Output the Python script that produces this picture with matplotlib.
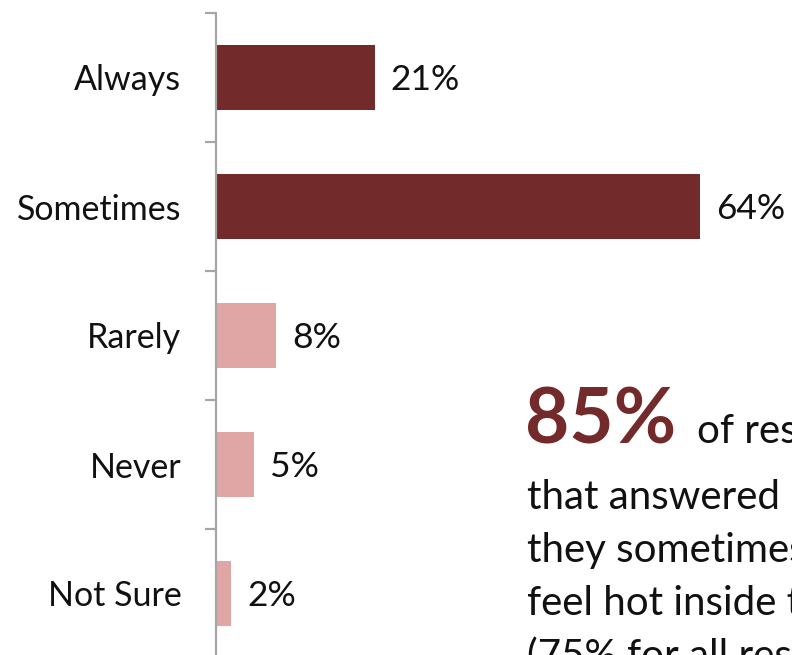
import matplotlib
matplotlib.use("Agg")
import matplotlib.pyplot as plt
import numpy as np

categories = ["Always", "Sometimes", "Rarely", "Never", "Not Sure"]
values = [21, 64, 8, 5, 2]
value_labels = ["21%", "64%", "8%", "5%", "2%"]
highlight = [True, True, False, False, False]

headline = "85%"
headline_tail = "of respondents"
body_lines = [
    "that answered \u201cYes\u201d said",
    "they sometimes or always",
    "feel hot inside their homes",
    "(75% for all respondents)",
]

DARK = "#722a2a"
LIGHT = "#e0a6a6"
AXIS_GREY = "#a6a6a6"

plt.rcParams["font.family"] = ["Lato", "DejaVu Sans"]

W, H, DPI = 792, 655, 100
fig = plt.figure(figsize=(W / DPI, H / DPI), dpi=DPI)

# axes box in pixel terms: left edge 216, top 13, bottom 658 (just below the canvas)
left, top, bottom = 216, 13, 658
xmax = 70
px_per_unit = 7.56
width_px = xmax * px_per_unit
ax = fig.add_axes([left / W, (H - bottom) / H, width_px / W, (bottom - top) / H])

y = np.arange(len(categories))
colors = [DARK if h else LIGHT for h in highlight]
ax.barh(y, values, height=0.5, color=colors, zorder=2)

ax.set_xlim(0, xmax)
ax.set_ylim(len(categories) - 0.5, -0.5)

for sp in ["top", "right", "bottom"]:
    ax.spines[sp].set_visible(False)
ax.spines["left"].set_color(AXIS_GREY)
ax.spines["left"].set_linewidth(1.6)
ax.spines["left"].set_zorder(3)

ax.set_xticks([])
ax.set_yticks(y)
ax.set_yticklabels(categories, fontsize=24.5, color="#111111")
ax.tick_params(axis="y", which="major", length=0, pad=25)
ax.set_yticks(np.arange(len(categories) + 1) - 0.5, minor=True)
ax.tick_params(axis="y", which="minor", length=8, width=1.6, color=AXIS_GREY,
               direction="out")

for yi, v, lab in zip(y, values, value_labels):
    ax.annotate(lab, xy=(v, yi), xytext=(11.5, -1.5), textcoords="offset points",
                ha="left", va="center", fontsize=25.5, color="#111111")

# callout text on the right
x0 = 527 / W
fig.text(x0 - 2 / W, (H - 443) / H, headline, fontsize=55, color=DARK,
         fontweight="bold", ha="left", va="baseline")
fig.text(697 / W, (H - 443) / H, headline_tail, fontsize=29, color="#111111",
         ha="left", va="baseline")
for i, line in enumerate(body_lines):
    fig.text(x0, (H - (509 + 53 * i)) / H, line, fontsize=29, color="#111111",
             ha="left", va="baseline")

fig.savefig("out.png", dpi=DPI)
